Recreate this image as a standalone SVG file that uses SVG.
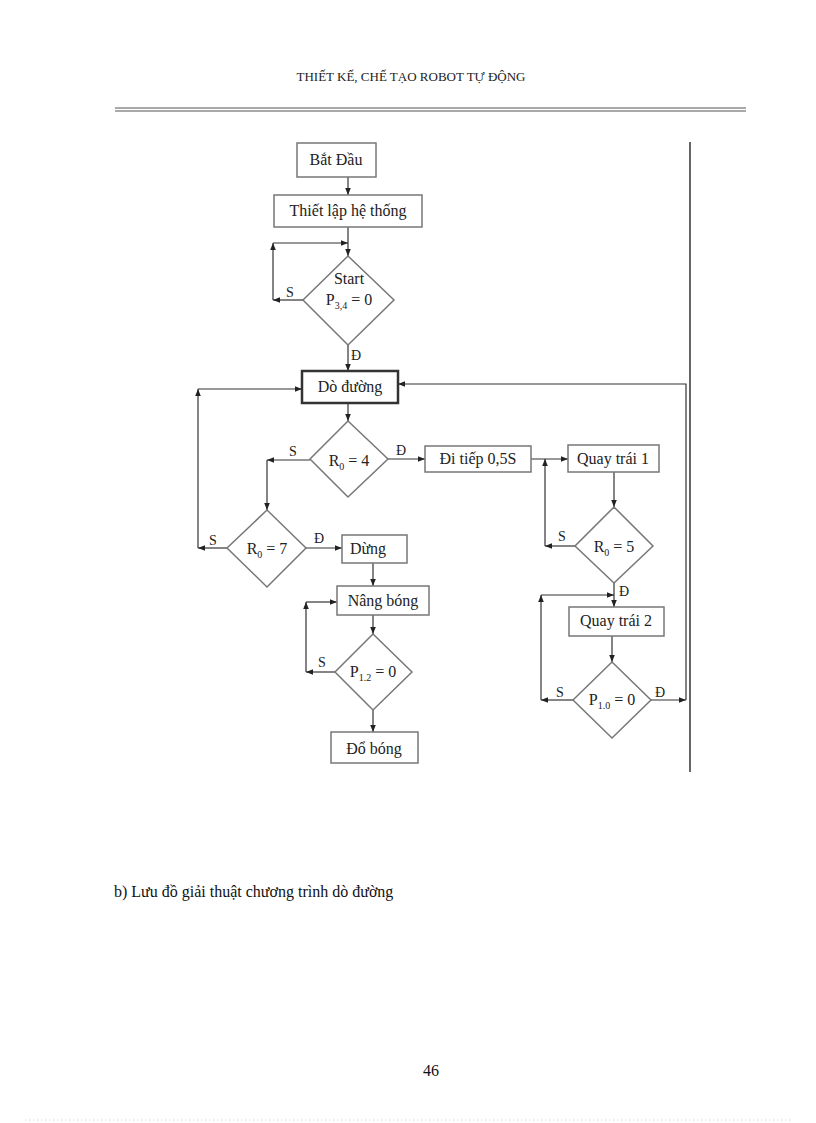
<svg xmlns="http://www.w3.org/2000/svg" width="816" height="1123" viewBox="0 0 816 1123">
<defs>
<marker id="a" viewBox="0 0 10 10" refX="10" refY="5" markerWidth="6" markerHeight="6" orient="auto"><path d="M0,1 L10,5 L0,9 z" fill="#222"/></marker>
<style>
.n{fill:#fff;stroke:#777;stroke-width:1.5}
.t{font-family:"Liberation Serif",serif;font-size:16px;fill:#222;text-anchor:middle}
.l{font-family:"Liberation Serif",serif;font-size:14px;fill:#222}
.c{fill:none;stroke:#333;stroke-width:1.2}
.s{font-size:10px}
</style>
</defs>
<rect width="816" height="1123" fill="#fff"/>
<text x="411" y="81" style="font-family:'Liberation Serif',serif;font-size:13px" text-anchor="middle" fill="#222">THIẾT KẾ, CHẾ TẠO ROBOT TỰ  ĐỘNG</text>
<line x1="115" y1="108" x2="746" y2="108" stroke="#555" stroke-width="1"/>
<line x1="115" y1="111" x2="746" y2="111" stroke="#555" stroke-width="1"/>
<line x1="690" y1="142" x2="690" y2="772" stroke="#333" stroke-width="1.5"/>
<g id="connectors">
<path class="c" d="M348,177 V195" marker-end="url(#a)"/>
<path class="c" d="M348,227 V256" marker-end="url(#a)"/>
<path class="c" d="M303,300 H273" marker-end="url(#a)"/>
<path class="c" d="M273,300 V243" marker-end="url(#a)"/>
<path class="c" d="M273,243 H348" marker-end="url(#a)"/>
<path class="c" d="M348,345 V371" marker-end="url(#a)"/>
<path class="c" d="M348,403 V421" marker-end="url(#a)"/>
<path class="c" d="M310,460 H267" marker-end="url(#a)"/>
<path class="c" d="M267,460 V510" marker-end="url(#a)"/>
<path class="c" d="M227,548 H198" marker-end="url(#a)"/>
<path class="c" d="M198,548 V389" marker-end="url(#a)"/>
<path class="c" d="M198,389 H302" marker-end="url(#a)"/>
<path class="c" d="M306,548 H342" marker-end="url(#a)"/>
<path class="c" d="M373,563 V586" marker-end="url(#a)"/>
<path class="c" d="M373,615 V634" marker-end="url(#a)"/>
<path class="c" d="M335,672 H306" marker-end="url(#a)"/>
<path class="c" d="M306,672 V602" marker-end="url(#a)"/>
<path class="c" d="M306,602 H337" marker-end="url(#a)"/>
<path class="c" d="M373,710 V732" marker-end="url(#a)"/>
<path class="c" d="M388,459 H425" marker-end="url(#a)"/>
<path class="c" d="M531,459 H568" marker-end="url(#a)"/>
<path class="c" d="M614,472 V507" marker-end="url(#a)"/>
<path class="c" d="M575,546 H545" marker-end="url(#a)"/>
<path class="c" d="M545,546 V459" marker-end="url(#a)"/>
<path class="c" d="M614,583 V607" marker-end="url(#a)"/>
<path class="c" d="M612,636 V662" marker-end="url(#a)"/>
<path class="c" d="M573,700 H541" marker-end="url(#a)"/>
<path class="c" d="M541,700 V595" marker-end="url(#a)"/>
<path class="c" d="M541,595 H614" marker-end="url(#a)"/>
<path class="c" d="M651,700 H686" marker-end="url(#a)"/>
<path class="c" d="M686,700 V384 H398" marker-end="url(#a)"/>
<text class="l" x="286" y="297">S</text>
<text class="l" x="351" y="360">Đ</text>
<text class="l" x="289" y="456">S</text>
<text class="l" x="396" y="455">Đ</text>
<text class="l" x="209" y="545">S</text>
<text class="l" x="314" y="543">Đ</text>
<text class="l" x="318" y="667">S</text>
<text class="l" x="558" y="541">S</text>
<text class="l" x="619" y="596">Đ</text>
<text class="l" x="556" y="697">S</text>
<text class="l" x="655" y="697">Đ</text>
</g>
<g id="n1"><rect class="n" x="297" y="143" width="79" height="34"/><text class="t" x="336" y="165">Bắt Đầu</text></g>
<g id="n2"><rect class="n" x="274" y="195" width="148" height="32"/><text class="t" x="348" y="216">Thiết lập hệ thống</text></g>
<g id="n3"><polygon class="n" points="348,256 394,300 348,345 303,300"/><text class="t" x="349" y="284">Start</text><text class="t" x="349" y="305">P<tspan class="s" dy="4">3,4</tspan><tspan dy="-4"> = 0</tspan></text></g>
<g id="n4"><rect class="n" x="302" y="371" width="96" height="32" style="stroke:#333;stroke-width:2.5"/><text class="t" x="350" y="392">Dò đường</text></g>
<g id="n5"><polygon class="n" points="348,421 388,459 348,497 310,459"/><text class="t" x="349" y="466">R<tspan class="s" dy="4">0</tspan><tspan dy="-4"> = 4</tspan></text></g>
<g id="n6"><polygon class="n" points="267,510 306,548 267,587 227,548"/><text class="t" x="267" y="554">R<tspan class="s" dy="4">0</tspan><tspan dy="-4"> = 7</tspan></text></g>
<g id="n7"><rect class="n" x="342" y="535" width="65" height="28"/><text class="t" x="368" y="554">Dừng</text></g>
<g id="n8"><rect class="n" x="337" y="586" width="92" height="29"/><text class="t" x="383" y="606">Nâng bóng</text></g>
<g id="n9"><polygon class="n" points="373,634 412,672 373,710 335,672"/><text class="t" x="373" y="677">P<tspan class="s" dy="4">1.2</tspan><tspan dy="-4"> = 0</tspan></text></g>
<g id="n10"><rect class="n" x="331" y="732" width="87" height="31"/><text class="t" x="374" y="754">Đổ bóng</text></g>
<g id="n11"><rect class="n" x="425" y="446" width="106" height="26"/><text class="t" x="478" y="464">Đi tiếp 0,5S</text></g>
<g id="n12"><rect class="n" x="568" y="445" width="91" height="27"/><text class="t" x="613" y="464">Quay trái 1</text></g>
<g id="n13"><polygon class="n" points="614,507 653,546 614,583 575,546"/><text class="t" x="614" y="552">R<tspan class="s" dy="4">0</tspan><tspan dy="-4"> = 5</tspan></text></g>
<g id="n14"><rect class="n" x="569" y="607" width="95" height="29"/><text class="t" x="616" y="626">Quay trái 2</text></g>
<g id="n15"><polygon class="n" points="612,662 651,700 612,738 573,700"/><text class="t" x="612" y="705">P<tspan class="s" dy="4">1.0</tspan><tspan dy="-4"> = 0</tspan></text></g>
<text x="114" y="897" style="font-family:'Liberation Serif',serif;font-size:16px" fill="#111">b) Lưu đồ giải thuật chương trình dò đường</text>
<text x="431" y="1076" style="font-family:'Liberation Serif',serif;font-size:16px" fill="#111" text-anchor="middle">46</text>
<line x1="25" y1="1120" x2="790" y2="1120" stroke="#ccc" stroke-dasharray="1,3"/>
</svg>
